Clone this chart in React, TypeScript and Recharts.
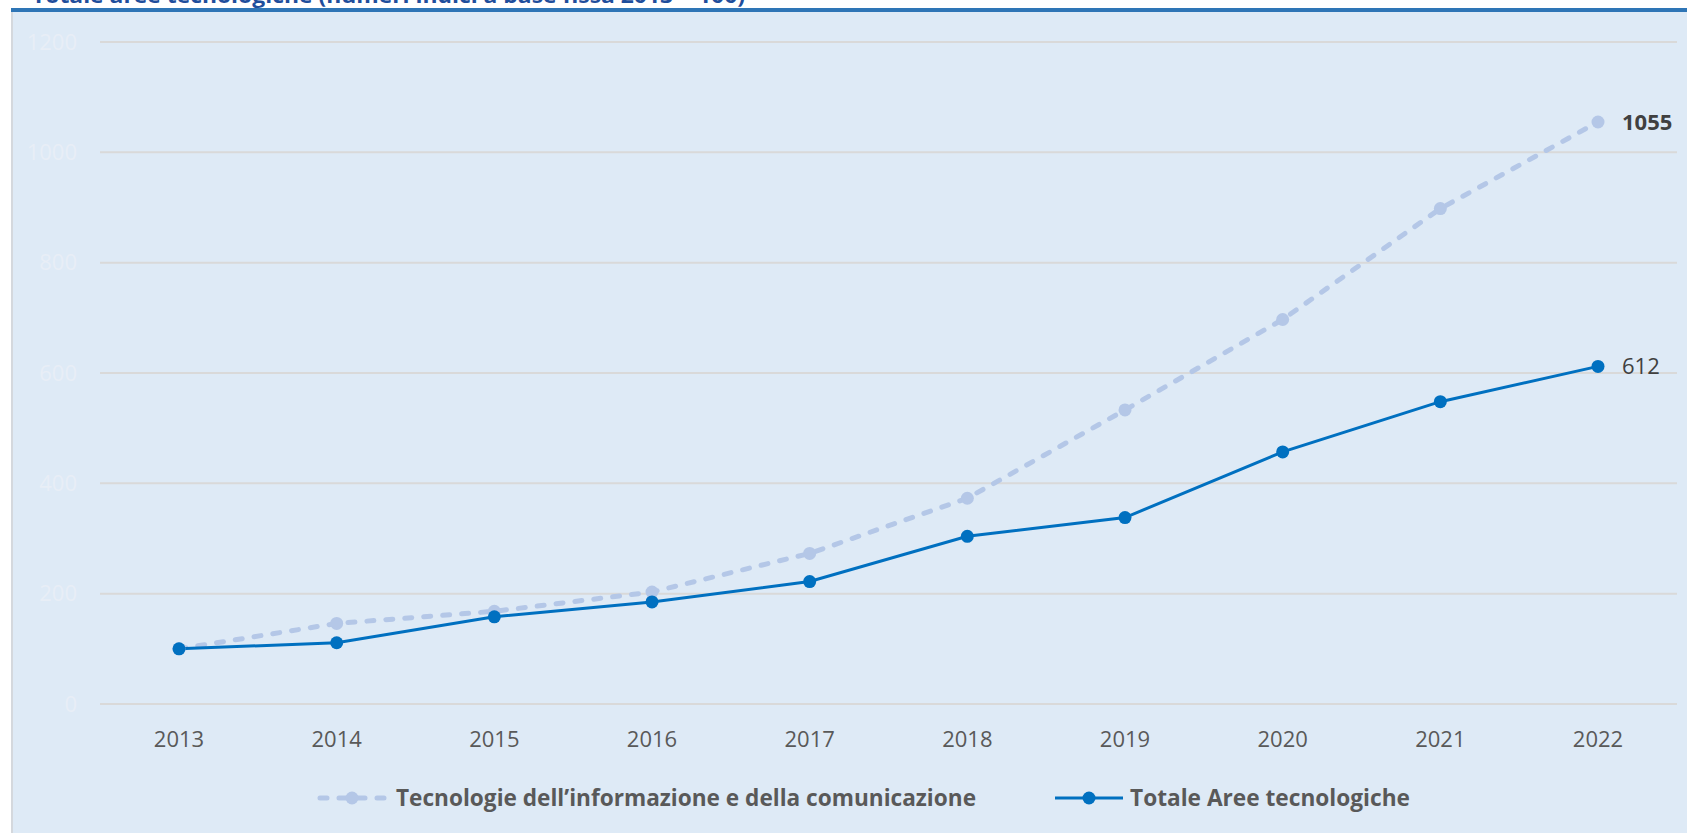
import React from "react";
import {
  LineChart,
  Line,
  XAxis,
  YAxis,
  CartesianGrid,
  LabelList,
} from "recharts";

const years = ["2013", "2014", "2015", "2016", "2017", "2018", "2019", "2020", "2021", "2022"];
const ictValues = [100, 146, 168, 203, 273, 373, 533, 697, 898, 1055];
const totalValues = [100, 111, 158, 185, 222, 304, 338, 457, 548, 612];
const yTicks = [0, 200, 400, 600, 800, 1000, 1200];

const ictName = "Tecnologie dell\u2019informazione e della comunicazione";
const totalName = "Totale Aree tecnologiche";
const title = "Totale aree tecnologiche (numeri indici a base fissa 2013 = 100)";

const ICT_COLOR = "#b4c7e7";
const TOTAL_COLOR = "#0070c0";
const FONT = "'Open Sans', sans-serif";

const data = years.map((y, i) => ({ year: y, ict: ictValues[i], total: totalValues[i] }));

// only the last point carries a value label
function endLabel(bold: boolean) {
  return (props: any) => {
    const { x, y, value, index } = props;
    if (index !== years.length - 1) return null;
    return (
      <text
        x={x + 24}
        y={y}
        dy="0.35em"
        fill="#404040"
        fontSize={22}
        fontWeight={bold ? 700 : 400}
        fontFamily={FONT}
      >
        {value}
      </text>
    );
  };
}

export default function App() {
  return (
    <div
      style={{
        position: "absolute",
        top: 0,
        left: 0,
        width: 1687,
        height: 833,
        overflow: "hidden",
        background: "#fff",
        fontFamily: FONT,
      }}
    >
      {/* panel background */}
      <div
        style={{
          position: "absolute",
          left: 11,
          top: 12,
          width: 1676,
          height: 821,
          background: "#deeaf6",
          borderLeft: "2px solid #d4d8dd",
        }}
      />
      {/* header rule */}
      <div
        style={{ position: "absolute", left: 11, top: 8, width: 1676, height: 4, background: "#2e75b6" }}
      />
      <svg style={{ position: "absolute", left: 0, top: 0 }} width={1687} height={12}>
        <text
          x={32}
          y={3}
          fill="#1f4e9c"
          fontSize={22}
          fontWeight={700}
          fontFamily={FONT}
          textLength={713}
          lengthAdjust="spacingAndGlyphs"
        >
          {title}
        </text>
      </svg>

      <div style={{ position: "absolute", left: 0, top: 0 }}>
        <LineChart width={1687} height={833} data={data} margin={{ top: 42, right: 10, bottom: 99, left: 0 }}>
          <CartesianGrid vertical={false} stroke="#d9d9d9" strokeWidth={2} />
          <XAxis
            dataKey="year"
            height={30}
            padding={{ left: 79, right: 79 }}
            axisLine={false}
            tickLine={false}
            tickMargin={21}
            tick={{ fill: "#595959", fontSize: 22, fontFamily: FONT }}
          />
          <YAxis
            width={100}
            domain={[0, 1200]}
            ticks={yTicks}
            axisLine={false}
            tickLine={false}
            tickMargin={17}
            tick={{ fill: "#e8eef6", fontSize: 22, fontFamily: FONT }}
          />
          <Line
            dataKey="ict"
            name={ictName}
            stroke={ICT_COLOR}
            strokeWidth={5}
            strokeDasharray="7 12"
            strokeLinecap="round"
            dot={{ r: 6.5, fill: ICT_COLOR, stroke: "none", strokeDasharray: "0" }}
            activeDot={false}
            isAnimationActive={false}
          >
            <LabelList dataKey="ict" content={endLabel(true)} />
          </Line>
          <Line
            dataKey="total"
            name={totalName}
            stroke={TOTAL_COLOR}
            strokeWidth={3}
            dot={{ r: 6.5, fill: TOTAL_COLOR, stroke: "none" }}
            activeDot={false}
            isAnimationActive={false}
          >
            <LabelList dataKey="total" content={endLabel(false)} />
          </Line>
        </LineChart>
      </div>

      {/* legend */}
      <svg style={{ position: "absolute", left: 0, top: 778 }} width={1687} height={40}>
        <line x1={320} x2={385} y1={20} y2={20} stroke={ICT_COLOR} strokeWidth={5} strokeDasharray="7 12" strokeLinecap="round" />
        <circle cx={352} cy={20} r={6.5} fill={ICT_COLOR} />
        <text
          x={396}
          y={28}
          fill="#595959"
          fontSize={23}
          fontWeight={700}
          fontFamily={FONT}
          textLength={580}
          lengthAdjust="spacingAndGlyphs"
        >
          {ictName}
        </text>
        <line x1={1055} x2={1123} y1={20} y2={20} stroke={TOTAL_COLOR} strokeWidth={3} />
        <circle cx={1089} cy={20} r={6.5} fill={TOTAL_COLOR} />
        <text
          x={1130}
          y={28}
          fill="#595959"
          fontSize={23}
          fontWeight={700}
          fontFamily={FONT}
          textLength={280}
          lengthAdjust="spacingAndGlyphs"
        >
          {totalName}
        </text>
      </svg>
    </div>
  );
}
